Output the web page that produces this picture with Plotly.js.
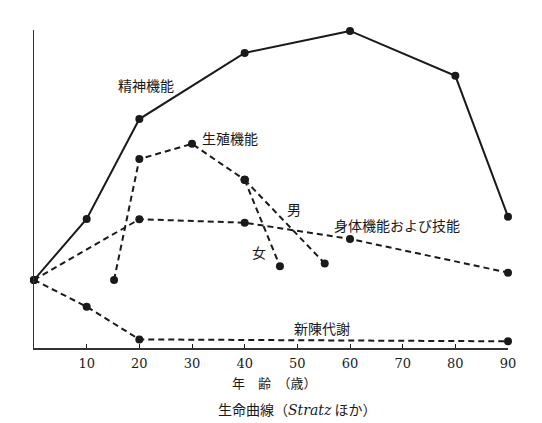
<!DOCTYPE html>
<html>
<head>
<meta charset="utf-8">
<script src="https://cdn.plot.ly/plotly-3.0.1.min.js"></script>
<style>
  html, body { margin: 0; padding: 0; background: #fff; }
  #chart { width: 542px; height: 423px; }
</style>
</head>
<body>
<div id="chart"></div>
<script>
(() => {
  "use strict";

  // ---- data (age, relative level 0-100) ----
  const mentalAge = [0, 10, 20, 40, 60, 80, 90];
  const mentalVal = [21.4, 40.6, 72.0, 92.8, 99.7, 85.6, 41.3];

  const reproAge = [15.2, 20, 30, 40];
  const reproVal = [21.4, 59.4, 64.2, 52.9];
  const reproMaleAge = [40, 55.2];
  const reproMaleVal = [52.9, 26.6];
  const reproFemaleAge = [40, 46.7];
  const reproFemaleVal = [52.9, 25.7];

  const physicalAge = [0, 20, 40, 60, 90];
  const physicalVal = [21.4, 40.5, 39.4, 34.3, 23.7];

  const metabAge = [0, 10, 20, 90];
  const metabVal = [21.4, 13.0, 2.7, 2.1];

  const tickVals = [10, 20, 30, 40, 50, 60, 70, 80, 90];

  const INK = "#1a1a1a";
  const JP = "'Noto Sans CJK JP', 'Noto Sans', sans-serif";
  const SERIF = "'DejaVu Serif', 'Liberation Serif', serif";
  const DASH = "6px,4px";

  function trace(x, y, dashed) {
    return {
      type: "scatter",
      mode: "lines+markers",
      x, y,
      line: { color: INK, width: 2, dash: dashed ? DASH : "solid" },
      marker: { color: INK, size: 8 },
      hoverinfo: "skip",
      showlegend: false,
      cliponaxis: false,
    };
  }

  const traces = [
    trace(physicalAge, physicalVal, true),
    trace(metabAge, metabVal, true),
    trace(reproAge, reproVal, true),
    trace(reproMaleAge, reproMaleVal, true),
    trace(reproFemaleAge, reproFemaleVal, true),
    trace(mentalAge, mentalVal, false),
  ];

  function label(text, x, y) {
    return {
      text, x, y, xref: "x", yref: "y",
      xanchor: "center", yanchor: "middle",
      showarrow: false,
      font: { family: JP, size: 14, color: INK },
    };
  }

  const annotations = [
    label("精神機能", 21.3, 82.7),
    label("生殖機能", 37.2, 66.0),
    label("男", 49.3, 43.7),
    label("女", 42.7, 30.2),
    label("身体機能および技能", 68.9, 38.7),
    label("新陳代謝", 54.6, 6.3),
    {
      text: "年　齢　（歳）", xref: "paper", yref: "paper",
      x: 0.508, y: -0.11, xanchor: "center", yanchor: "middle",
      showarrow: false,
      font: { family: JP, size: 13, color: INK },
    },
    {
      text: "生命曲線（<i><span style=\"font-family:" + SERIF.replace(/'/g, "") + "\">Stratz</span></i> ほか）",
      xref: "paper", yref: "paper",
      x: 0.555, y: -0.192, xanchor: "center", yanchor: "middle",
      showarrow: false,
      font: { family: JP, size: 14, color: INK },
    },
  ];

  const layout = {
    width: 542,
    height: 423,
    margin: { l: 34, r: 34, t: 30, b: 75 },
    paper_bgcolor: "#fff",
    plot_bgcolor: "#fff",
    showlegend: false,
    xaxis: {
      range: [0, 90],
      tickvals: tickVals,
      ticktext: tickVals.map(String),
      ticks: "inside",
      ticklen: 4,
      tickwidth: 1,
      tickcolor: INK,
      ticklabelstandoff: 3,
      showgrid: false,
      zeroline: false,
      showline: true,
      linecolor: "#333",
      linewidth: 1.5,
      tickfont: { family: SERIF, size: 13, color: INK },
      fixedrange: true,
    },
    yaxis: {
      range: [0, 100],
      showticklabels: false,
      ticks: "",
      showgrid: false,
      zeroline: false,
      showline: true,
      linecolor: "#333",
      linewidth: 1.5,
      fixedrange: true,
    },
    annotations,
  };

  Plotly.newPlot("chart", traces, layout, { staticPlot: true, displayModeBar: false });
})();
</script>
</body>
</html>
